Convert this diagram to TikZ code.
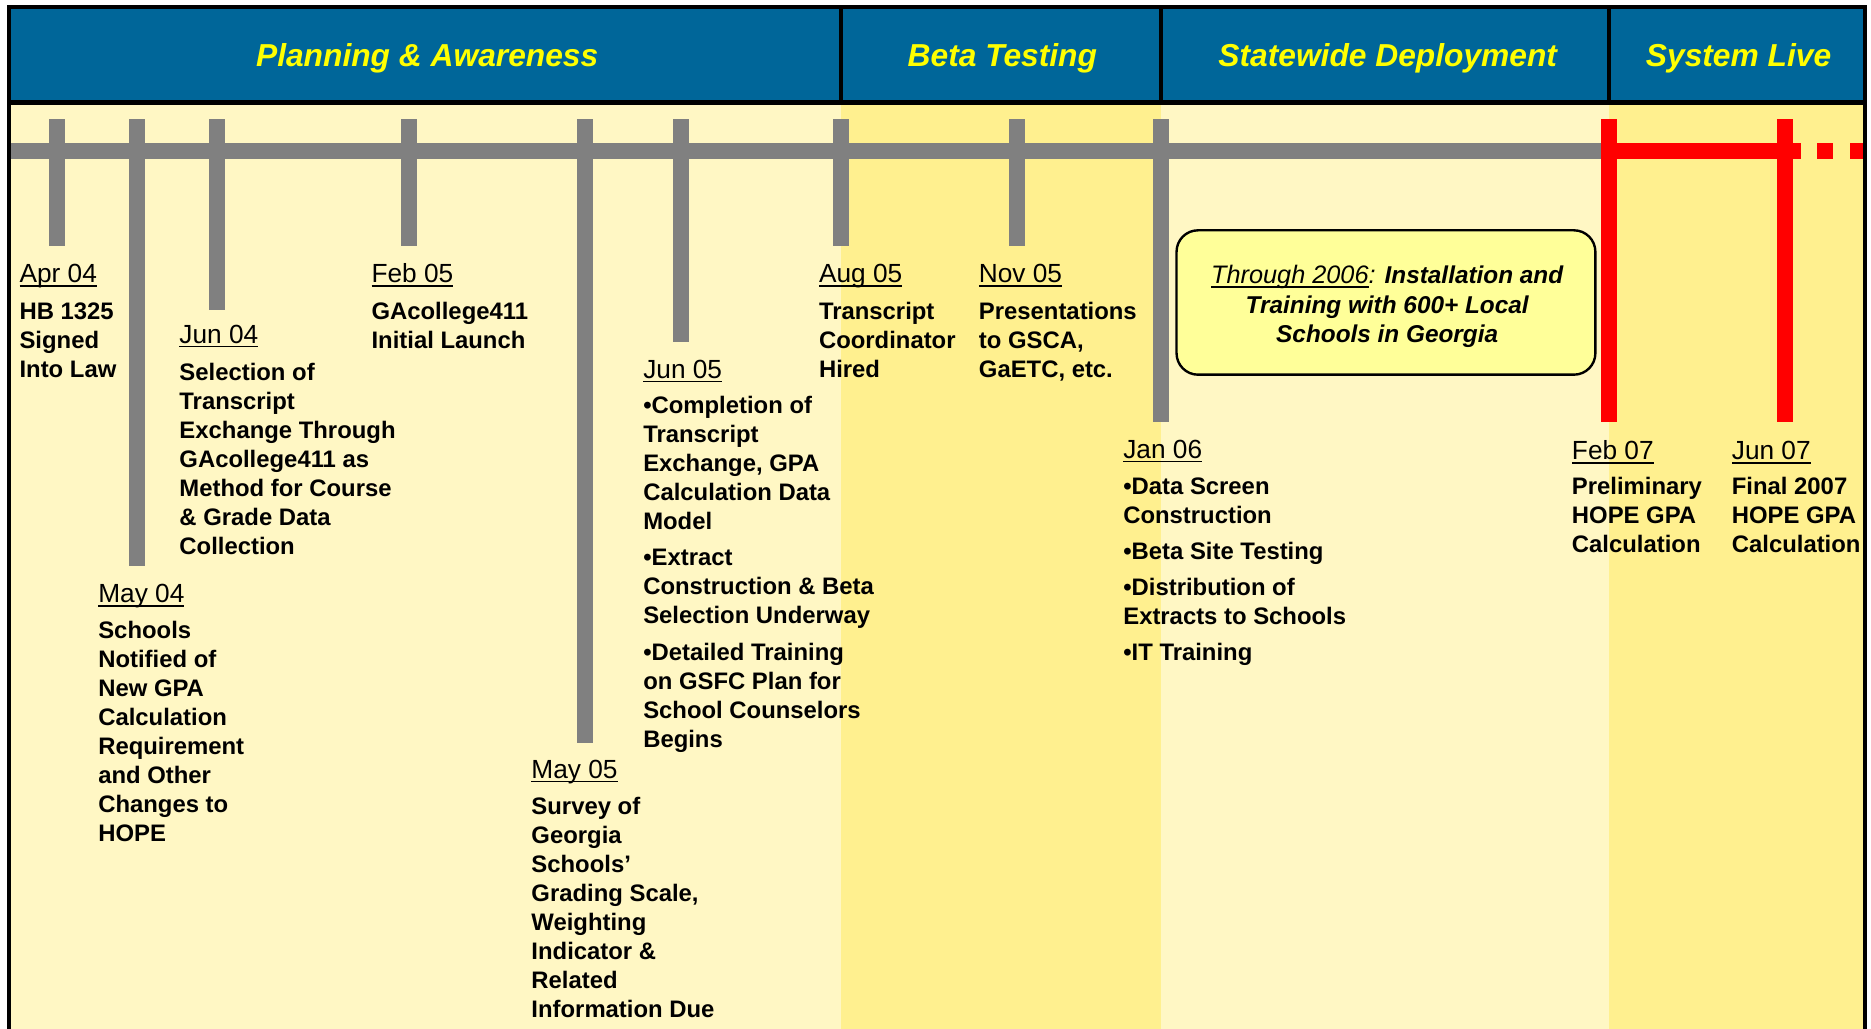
\documentclass[tikz,border=0pt]{standalone}
\usepackage{fontspec}
\setmainfont{Liberation Sans}
\definecolor{hdrblue}{HTML}{006699}
\definecolor{hdryellow}{HTML}{FFFF00}
\definecolor{palebg}{HTML}{FFF7C4}
\definecolor{darkbg}{HTML}{FFF08F}
\definecolor{tlgray}{HTML}{808080}
\definecolor{tlred}{HTML}{FF0000}
\definecolor{boxfill}{HTML}{FFFF99}
\newsavebox\ulbox
\newcommand\myul[1]{\sbox\ulbox{#1}\rlap{\rule[-1.75pt]{\wd\ulbox}{0.7pt}}\usebox\ulbox}
\tikzset{
  datelbl/.style={anchor=base west, inner sep=0pt, font=\fontsize{11}{13}\selectfont},
  bodytxt/.style={anchor=north west, inner sep=0pt, align=left, font=\fontsize{10}{12.15}\selectfont\bfseries},
  hdrtxt/.style={anchor=base, inner sep=0pt, text=hdryellow, font=\fontsize{13.3}{16}\selectfont\bfseries\itshape},
  framelin/.style={draw=black, line width=1.8pt},
  grayticks/.style={fill=tlgray},
  redticks/.style={fill=tlred},
  notebox/.style={draw=black, line width=1pt, fill=boxfill, rounded corners=9pt}
}
\begin{document}
\begin{tikzpicture}[x=0.5pt,y=-0.5pt]
\useasboundingbox (0,0) rectangle (1568,862);
% backgrounds
\fill[palebg] (7.4,86) rectangle (1563.2,870);
\fill[darkbg] (705,86) rectangle (973,870);
\fill[darkbg] (1348.5,86) rectangle (1563.2,870);
\fill[hdrblue] (7.4,5.9) rectangle (1563.2,86);
% timeline bar
\fill[tlgray] (7.5,120) rectangle (1348.5,133.3);
\fill[tlred] (1348.5,120) rectangle (1509.5,133.3);
\fill[tlred] (1523,120) rectangle (1536,133.3);
\fill[tlred] (1550,120) rectangle (1563,133.3);
% ticks
\foreach \tx/\tb in {47.8/206, 114.9/474.5, 181.9/260, 342.7/206, 490.3/622.5, 570.5/287, 704.9/206, 852.4/206, 973/354}
  \fill[grayticks] (\tx-6.7,100) rectangle (\tx+6.7,\tb);
\foreach \tx in {1348.5, 1496}
  \fill[redticks] (\tx-6.7,100) rectangle (\tx+6.7,354);
% frame
\draw[framelin, line cap=rect] (7.4,5.9) -- (1563.2,5.9);
\draw[framelin, line cap=rect] (7.4,86) -- (1563.2,86);
\draw[framelin] (7.4,4.5) -- (7.4,875);
\draw[framelin] (1563.2,4.5) -- (1563.2,875);
\draw[framelin] (705,5.9) -- (705,86);
\draw[framelin] (973,5.9) -- (973,86);
\draw[framelin] (1348.5,5.9) -- (1348.5,86);
% headers
\node[hdrtxt] (h1) at (358,56) {Planning \& Awareness};
\node[hdrtxt] (h2) at (840,56) {Beta Testing};
\node[hdrtxt] (h3) at (1163,56) {Statewide Deployment};
\node[hdrtxt] (h4) at (1457,56) {System Live};
% note box
\draw[notebox] (986,193) rectangle (1337,314);
\node[anchor=north, inner sep=0pt, align=center, font=\fontsize{10.2}{12.25}\selectfont\bfseries\itshape] (note) at (1162.5,220.4)
  {\strut{\mdseries\fontsize{10.6}{12.25}\selectfont\myul{Through 2006}:} Installation and\\Training with 600+ Local\\Schools in Georgia};
% events
\node[datelbl] (d1) at (16,237) {\myul{Apr 04}};
\node[bodytxt] (b1) at (16,250) {\strut HB 1325\\Signed\\Into Law};
\node[datelbl] (d2) at (82,505) {\myul{May 04}};
\node[bodytxt] (b2) at (82,518) {\strut Schools\\Notified of\\New GPA\\Calculation\\Requirement\\and Other\\Changes to\\HOPE};
\node[datelbl] (d3) at (150,287.6) {\myul{Jun 04}};
\node[bodytxt] (b3) at (150,301.5) {\strut Selection of\\Transcript\\Exchange Through\\GAcollege411 as\\Method for Course\\\& Grade Data\\Collection};
\node[datelbl] (d4) at (311,237) {\myul{Feb 05}};
\node[bodytxt] (b4) at (311,250) {\strut GAcollege411\\Initial Launch};
\node[datelbl] (d5) at (445,652) {\myul{May 05}};
\node[bodytxt] (b5) at (445,665) {\strut Survey of\\Georgia\\Schools’\\Grading Scale,\\Weighting\\Indicator \&\\Related\\Information Due};
\node[datelbl] (d6) at (538.7,316.8) {\myul{Jun 05}};
\node[bodytxt] (b6) at (538.7,329.4) {\strut •Completion of\\Transcript\\Exchange, GPA\\Calculation Data\\Model\\[3pt]•Extract\\Construction \& Beta\\Selection Underway\\[3pt]•Detailed Training\\on GSFC Plan for\\School Counselors\\Begins};
\node[datelbl] (d7) at (686,237) {\myul{Aug 05}};
\node[bodytxt] (b7) at (686,250) {\strut Transcript\\Coordinator\\Hired};
\node[datelbl] (d8) at (820,237) {\myul{Nov 05}};
\node[bodytxt] (b8) at (820,250) {\strut Presentations\\to GSCA,\\GaETC, etc.};
\node[datelbl] (d9) at (941,384) {\myul{Jan 06}};
\node[bodytxt] (b9) at (941,397) {\strut •Data Screen\\Construction\\[3pt]•Beta Site Testing\\[3pt]•Distribution of\\Extracts to Schools\\[3pt]•IT Training};
\node[datelbl] (d10) at (1317,385) {\myul{Feb 07}};
\node[bodytxt] (b10) at (1317,397) {\strut Preliminary\\HOPE GPA\\Calculation};
\node[datelbl] (d11) at (1451,385) {\myul{Jun 07}};
\node[bodytxt] (b11) at (1451,397) {\strut Final 2007\\HOPE GPA\\Calculation};
\end{tikzpicture}
\end{document}
